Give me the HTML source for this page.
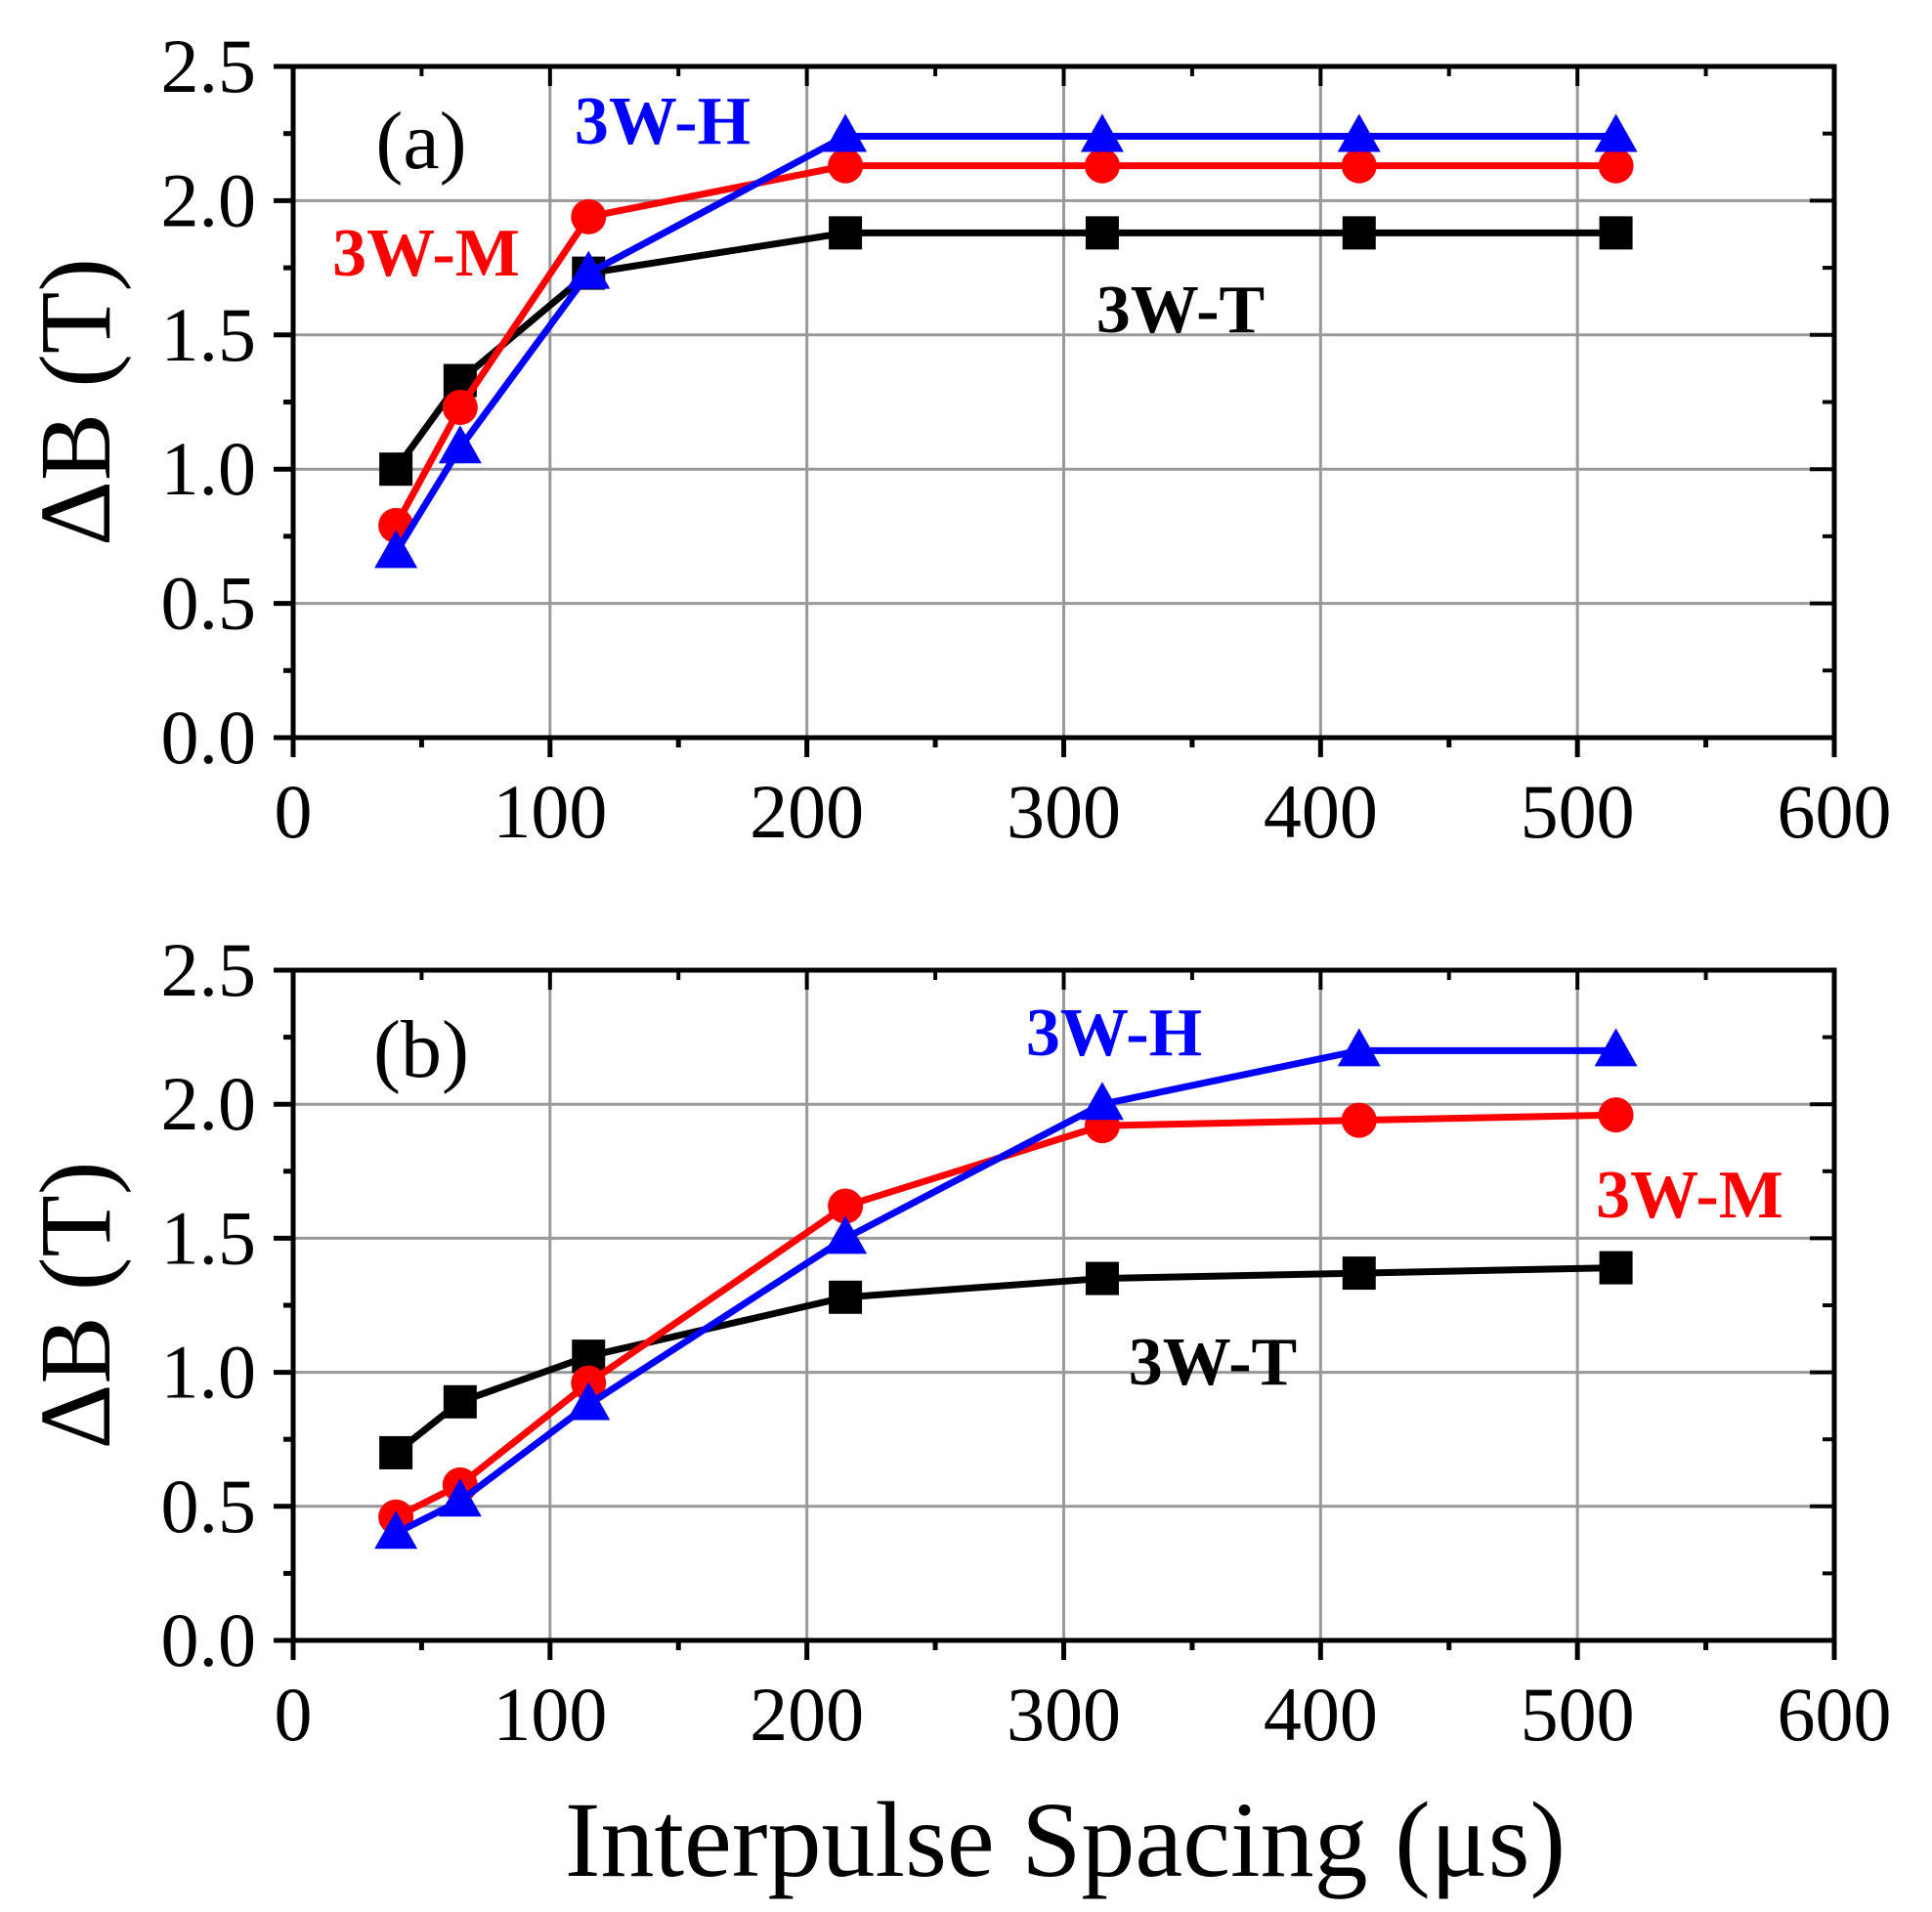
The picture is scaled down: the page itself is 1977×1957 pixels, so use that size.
<!DOCTYPE html>
<html><head><meta charset="utf-8"><style>
html,body{margin:0;padding:0;background:#fff;}
svg{display:block;}
text{font-family:"Liberation Serif",serif;}
</style></head><body>
<svg id="chart" width="1977" height="1957" viewBox="0 0 1977 1957" xmlns="http://www.w3.org/2000/svg"></svg>
<script>
const xValues = [40, 65, 115, 215, 315, 415, 515];
const aT = [1.0, 1.33, 1.73, 1.88, 1.88, 1.88, 1.88];
const aM = [0.79, 1.23, 1.94, 2.13, 2.13, 2.13, 2.13];
const aH = [0.69, 1.08, 1.73, 2.24, 2.24, 2.24, 2.24];
const bT = [0.70, 0.89, 1.06, 1.28, 1.35, 1.37, 1.39];
const bM = [0.46, 0.58, 0.96, 1.62, 1.92, 1.94, 1.96];
const bH = [0.40, 0.52, 0.88, 1.50, 2.00, 2.20, 2.20];
const xTicks = [0, 100, 200, 300, 400, 500, 600];
const yTicks = [0, 0.5, 1.0, 1.5, 2.0, 2.5];

const NS = "http://www.w3.org/2000/svg";
const svg = document.getElementById('chart');
function mk(tag, attrs, parent){const e=document.createElementNS(NS,tag);for(const k in attrs)e.setAttribute(k,attrs[k]);(parent||svg).appendChild(e);return e;}
const L=300,R=1877;
function xs(v){return L+(v-0)/600*(R-L);}

function panel(name, top, bottom, T, M, H, labels){
  const g=mk('g',{});
  
  
  const ys=v=>bottom-(v/2.5)*(bottom-top);
  xTicks.forEach(t=>{ if(t>0&&t<600){const l=mk('line',{x1:xs(t),x2:xs(t),y1:top,y2:bottom,stroke:'#999','stroke-width':3},g);
    
    }});
  yTicks.forEach(t=>{ if(t>0&&t<2.5){const l=mk('line',{x1:L,x2:R,y1:ys(t),y2:ys(t),stroke:'#999','stroke-width':3},g);
    
    }});
  const fr=mk('rect',{x:L,y:top,width:R-L,height:bottom-top,fill:'none',stroke:'#000','stroke-width':5},g);
  
  
  for(let t=0;t<=600;t+=50){const major=t%100===0;
    mk('line',{x1:xs(t),x2:xs(t),y1:bottom,y2:bottom+(major?20:10),stroke:'#000','stroke-width':5},g);
    mk('line',{x1:xs(t),x2:xs(t),y1:top,y2:top+(major?20:10),stroke:'#000','stroke-width':4},g);}
  for(let t=0;t<=2.5001;t+=0.25){const major=Math.abs(t*2-Math.round(t*2))<1e-6;
    mk('line',{x1:L-(major?20:10),x2:L,y1:ys(t),y2:ys(t),stroke:'#000','stroke-width':5},g);
    mk('line',{x1:R-(major?25:12),x2:R,y1:ys(t),y2:ys(t),stroke:'#000','stroke-width':4},g);}
  xTicks.forEach(t=>{const tx=mk('text',{x:xs(t),y:bottom+102,'font-size':78,'text-anchor':'middle',fill:'#000'},g);tx.textContent=t;
    
    });
  yTicks.forEach(t=>{const tx=mk('text',{x:262,y:ys(t)+26,'font-size':78,'text-anchor':'end',fill:'#000'},g);tx.textContent=t.toFixed(1);
    
    });
  const yt=mk('text',{x:0,y:0,'font-size':104,'text-anchor':'middle',fill:'#000',transform:`translate(112,${(top+bottom)/2}) rotate(-90)`},g);
  yt.textContent='ΔB (T)';
  
  
  const series=[['3w-t',T,'#000','sq'],['3w-m',M,'#ff0000','ci'],['3w-h',H,'#0000ff','tr']];
  series.forEach(([sn,vals,col,shape])=>{
    const pts=vals.map((v,i)=>xs(xValues[i])+','+ys(v)).join(' ');
    const pl=mk('polyline',{points:pts,fill:'none',stroke:col,'stroke-width':7},g);
    
    
    vals.forEach((v,i)=>{const cx=xs(xValues[i]),cy=ys(v);let m;
      if(shape==='sq') m=mk('rect',{x:cx-17,y:cy-17,width:34,height:34,fill:col},g);
      else if(shape==='ci') m=mk('circle',{cx:cx,cy:cy,r:18,fill:col},g);
      else m=mk('polygon',{points:`${cx},${cy-23} ${cx-22},${cy+16} ${cx+22},${cy+16}`,fill:col},g);
      
      });
  });
  labels.forEach(([txt,x,y,col,bold,sz])=>{const tx=mk('text',{x:x,y:y,'font-size':sz,'text-anchor':'middle',fill:col,'font-weight':bold?'bold':'normal'},g);tx.textContent=txt;
    
    });
}
panel('a',68,755,aT,aM,aH,[
  ['(a)',431,172,'#000',false,84],['3W-H',678,147,'#0000ff',true,70],
  ['3W-M',436,282,'#ff0000',true,70],['3W-T',1208,340,'#000',true,70]]);
panel('b',993,1679,bT,bM,bH,[
  ['(b)',431,1102,'#000',false,84],['3W-H',1140,1080,'#0000ff',true,70],
  ['3W-M',1729,1246,'#ff0000',true,70],['3W-T',1241,1417,'#000',true,70]]);
const xt=mk('text',{x:1090,y:1920,'font-size':110,'text-anchor':'middle',fill:'#000'});
xt.textContent='Interpulse Spacing (μs)';


</script>
</body></html>
